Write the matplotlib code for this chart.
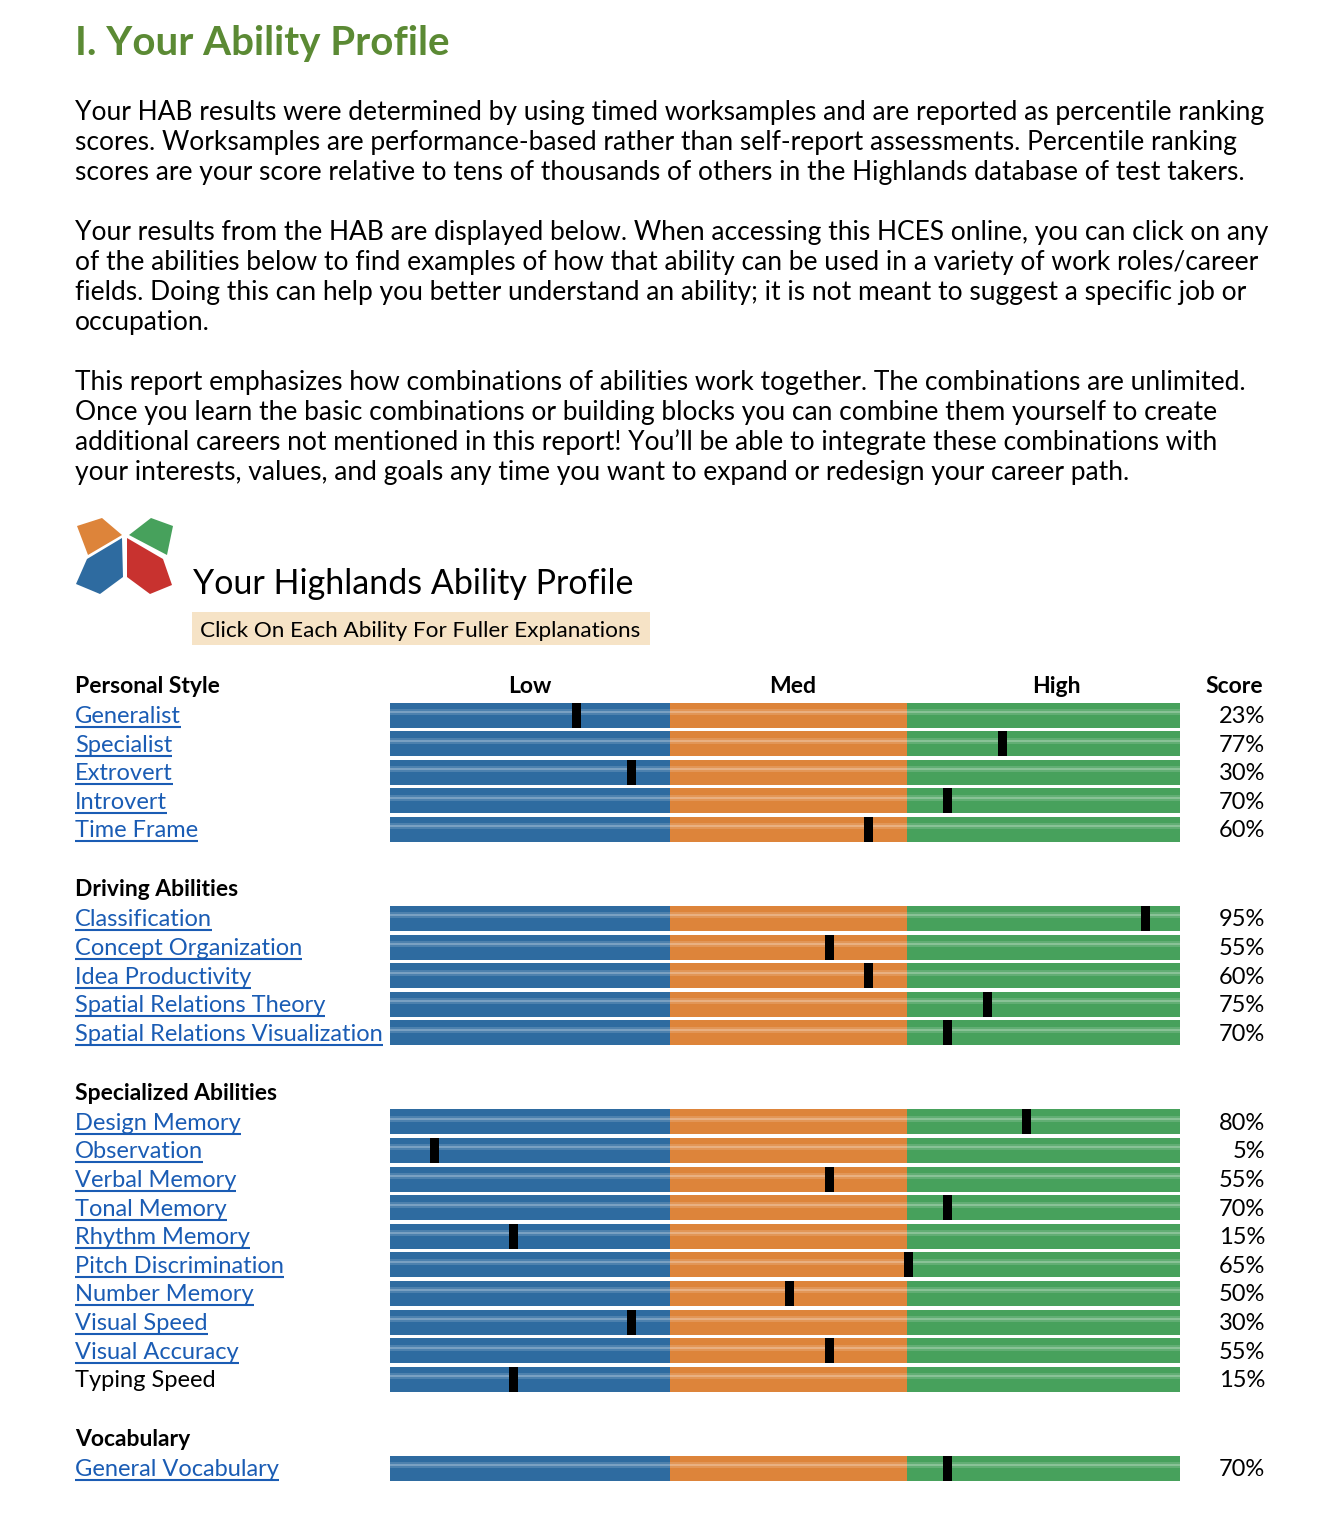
import matplotlib
matplotlib.use("Agg")
import matplotlib.pyplot as plt
from matplotlib.patches import Polygon, Rectangle

# --- data ---
title = "I. Your Ability Profile"
para_lines = [
    ["Your HAB results were determined by using timed worksamples and are reported as percentile ranking",
     "scores. Worksamples are performance-based rather than self-report assessments. Percentile ranking",
     "scores are your score relative to tens of thousands of others in the Highlands database of test takers."],
    ["Your results from the HAB are displayed below. When accessing this HCES online, you can click on any",
     "of the abilities below to find examples of how that ability can be used in a variety of work roles/career",
     "fields. Doing this can help you better understand an ability; it is not meant to suggest a specific job or",
     "occupation."],
    ["This report emphasizes how combinations of abilities work together. The combinations are unlimited.",
     "Once you learn the basic combinations or building blocks you can combine them yourself to create",
     "additional careers not mentioned in this report! You\u2019ll be able to integrate these combinations with",
     "your interests, values, and goals any time you want to expand or redesign your career path."],
]

section_names = ["Personal Style", "Driving Abilities", "Specialized Abilities", "Vocabulary"]
personal_labels = ["Generalist", "Specialist", "Extrovert", "Introvert", "Time Frame"]
personal_scores = [23, 77, 30, 70, 60]
driving_labels = ["Classification", "Concept Organization", "Idea Productivity",
                  "Spatial Relations Theory", "Spatial Relations Visualization"]
driving_scores = [95, 55, 60, 75, 70]
special_labels = ["Design Memory", "Observation", "Verbal Memory", "Tonal Memory", "Rhythm Memory",
                  "Pitch Discrimination", "Number Memory", "Visual Speed", "Visual Accuracy", "Typing Speed"]
special_scores = [80, 5, 55, 70, 15, 65, 50, 30, 55, 15]
vocab_labels = ["General Vocabulary"]
vocab_scores = [70]
not_linked = ["Typing Speed"]

band_names = ["Low", "Med", "High"]
band_edges = [0, 35.5, 65.5, 100]

sections = [
    (section_names[0], personal_labels, personal_scores),
    (section_names[1], driving_labels, driving_scores),
    (section_names[2], special_labels, special_scores),
    (section_names[3], vocab_labels, vocab_scores),
]

# --- style ---
FONT = ["Lato", "DejaVu Sans"]
plt.rcParams["font.family"] = FONT
band_colors = ["#2e6ba0", "#dd843a", "#47a15c"]
link_color = "#1a5cb4"
green_title = "#5b8a34"

W, H = 1320, 1528
fig = plt.figure(figsize=(W / 100, H / 100), dpi=100)
bg = fig.add_axes([0, 0, 1, 1])
bg.set_xlim(0, W)
bg.set_ylim(H, 0)
bg.axis("off")

bar_ax = fig.add_axes([390 / W, 0, 790 / W, 1])
bar_ax.set_xlim(0, 100)
bar_ax.set_ylim(H, 0)
bar_ax.axis("off")

# title + intro text
bg.text(75, 55, title, fontsize=29, fontweight="bold", color=green_title, va="baseline")
y = 120
for block in para_lines:
    for line in block:
        bg.text(75, y, line, fontsize=19, color="black", va="baseline")
        y += 30
    y += 30

# logo
logo = [
    ([(77, 526), (102, 518), (122, 535), (88, 555)], "#dd843a"),
    ([(129, 535), (151, 518), (173, 526), (167, 555)], "#47a15c"),
    ([(76, 584), (87, 559), (122, 538), (123, 577), (100, 594)], "#2e6ba0"),
    ([(127, 538), (163, 559), (172, 585), (150, 594), (127, 577)], "#c8322f"),
]
for pts, c in logo:
    bg.add_patch(Polygon(pts, closed=True, color=c, lw=0))

bg.text(193, 594, "Your Highlands Ability Profile", fontsize=24.5, va="baseline")
bg.add_patch(Rectangle((192, 612), 458, 33, color="#f6e3c6", lw=0))
bg.text(200, 637, "Click On Each Ability For Fuller Explanations", fontsize=16.2, va="baseline")

# column headers
bg.text(530, 693, band_names[0], fontsize=16.5, fontweight="bold", ha="center", va="baseline")
bg.text(793, 693, band_names[1], fontsize=16.5, fontweight="bold", ha="center", va="baseline")
bg.text(1056, 693, band_names[2], fontsize=16.5, fontweight="bold", ha="center", va="baseline")
bg.text(1234, 693, "Score", fontsize=16.5, fontweight="bold", ha="center", va="baseline")

pitch = 28.6
bar_h = 25
link_texts = []
y = 685
for name, labels, scores in sections:
    bg.text(75, y + 8, name, fontsize=16.5, fontweight="bold", va="baseline")
    for i, (lab, sc) in enumerate(zip(labels, scores)):
        yc = y + 30 + i * pitch
        for k in range(3):
            left, right = band_edges[k], band_edges[k + 1]
            bar_ax.barh(yc, right - left, left=left, height=bar_h, color=band_colors[k], lw=0)
        # soft highlight stripe
        bar_ax.barh(yc - 3, 100, left=0, height=6, color="white", alpha=0.15, lw=0)
        bar_ax.barh(yc - 3, 100, left=0, height=2, color="white", alpha=0.25, lw=0)
        bar_ax.barh(yc, 1.15, left=sc, height=bar_h, color="black", lw=0)
        linked = lab not in not_linked
        t = bg.text(75, yc + 8, lab, fontsize=17, va="baseline",
                    color=link_color if linked else "black")
        if linked:
            link_texts.append((t, yc + 12))
        bg.text(1265, yc + 8, f"{sc}%", fontsize=17, ha="right", va="baseline")
    y = yc + 59

# underline the links
fig.canvas.draw()
r = fig.canvas.get_renderer()
inv = bg.transData.inverted()
for t, yl in link_texts:
    bb = t.get_window_extent(renderer=r)
    x0 = inv.transform((bb.x0, bb.y0))[0]
    x1 = inv.transform((bb.x1, bb.y0))[0]
    bg.plot([x0, x1], [yl, yl], color=link_color, lw=1.5, solid_capstyle="butt")

fig.savefig("out.png", dpi=100, facecolor="white")
